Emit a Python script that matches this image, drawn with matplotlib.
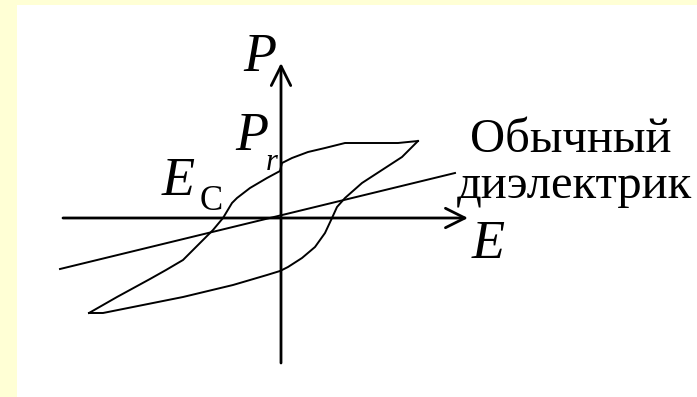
import matplotlib
matplotlib.use("Agg")
import matplotlib.pyplot as plt

# hysteresis loop of a ferroelectric (arbitrary units)
# descending branch: from +saturation tip to -saturation tip
E_down = [13.7, 11.7, 9.4, 6.4, 4.4, 2.7, 1.1, 0.1, -0.1, -1.4, -3.1, -4.4,
          -4.9, -5.8, -6.8, -7.8, -9.0, -9.8, -11.5, -13.1, -16.4, -19.2]
P_down = [7.7, 7.5, 7.5, 7.5, 7.0, 6.6, 6.0, 5.5, 4.7, 4.0, 3.0, 2.0,
          1.5, 0.0, -1.2, -2.2, -3.4, -4.2, -5.2, -6.1, -7.9, -9.5]
# ascending branch: from -saturation tip back to +saturation tip
E_up = [-19.2, -17.8, -14.8, -9.8, -4.8, -1.4, -0.1, 0.7, 2.1, 3.4, 4.4,
        5.1, 5.6, 6.4, 8.1, 10.1, 12.1, 13.7]
P_up = [-9.5, -9.5, -8.9, -7.9, -6.7, -5.7, -5.3, -4.9, -4.0, -2.9, -1.5,
        0.0, 1.1, 2.0, 3.5, 4.8, 6.1, 7.7]
# ordinary (linear) dielectric
E_lin = [-22.1, 17.4]
P_lin = [-5.1, 4.5]

# axis extents
E_axis = [-21.8, 18.7]
P_axis = [-14.5, 15.5]

fig = plt.figure(figsize=(6.97, 3.97), dpi=100, facecolor="#FFFFD5")
ax = fig.add_axes([17 / 697, 0, 680 / 697, 392 / 397])
ax.set_facecolor("white")
ax.set_xlim(-26.4, 41.6)
ax.set_ylim(-17.9, 21.3)
ax.set_xticks([])
ax.set_yticks([])
for s in ax.spines.values():
    s.set_visible(False)

arrow = dict(arrowstyle="->,head_length=1.4,head_width=0.7", lw=2,
             color="black", shrinkA=0, shrinkB=0)
ax.annotate("", xy=(E_axis[1], 0), xytext=(E_axis[0], 0), arrowprops=arrow)
ax.annotate("", xy=(0, P_axis[1]), xytext=(0, P_axis[0]), arrowprops=arrow)

ax.plot(E_down, P_down, color="black", lw=1.4)
ax.plot(E_up, P_up, color="black", lw=1.4)
ax.plot(E_lin, P_lin, color="black", lw=1.4)

serif = "Liberation Serif"
big = 39
ax.text(-3.8, 14.7, "P", fontsize=big, family=serif, style="italic")
ax.text(-4.6, 6.8, "P", fontsize=big, family=serif, style="italic")
ax.text(-1.5, 4.8, "r", fontsize=22, family=serif, style="italic")
ax.text(-11.9, 2.3, "E", fontsize=big, family=serif, style="italic")
ax.text(-8.1, 0.8, "C", fontsize=25, family=serif)
ax.text(19.1, -4.0, "E", fontsize=big, family=serif, style="italic")
ax.text(18.9, 6.6, "Обычный", fontsize=35, family=serif)
ax.text(17.6, 2.0, "диэлектрик", fontsize=35, family=serif)

fig.savefig("out.png", dpi=100, facecolor=fig.get_facecolor())
